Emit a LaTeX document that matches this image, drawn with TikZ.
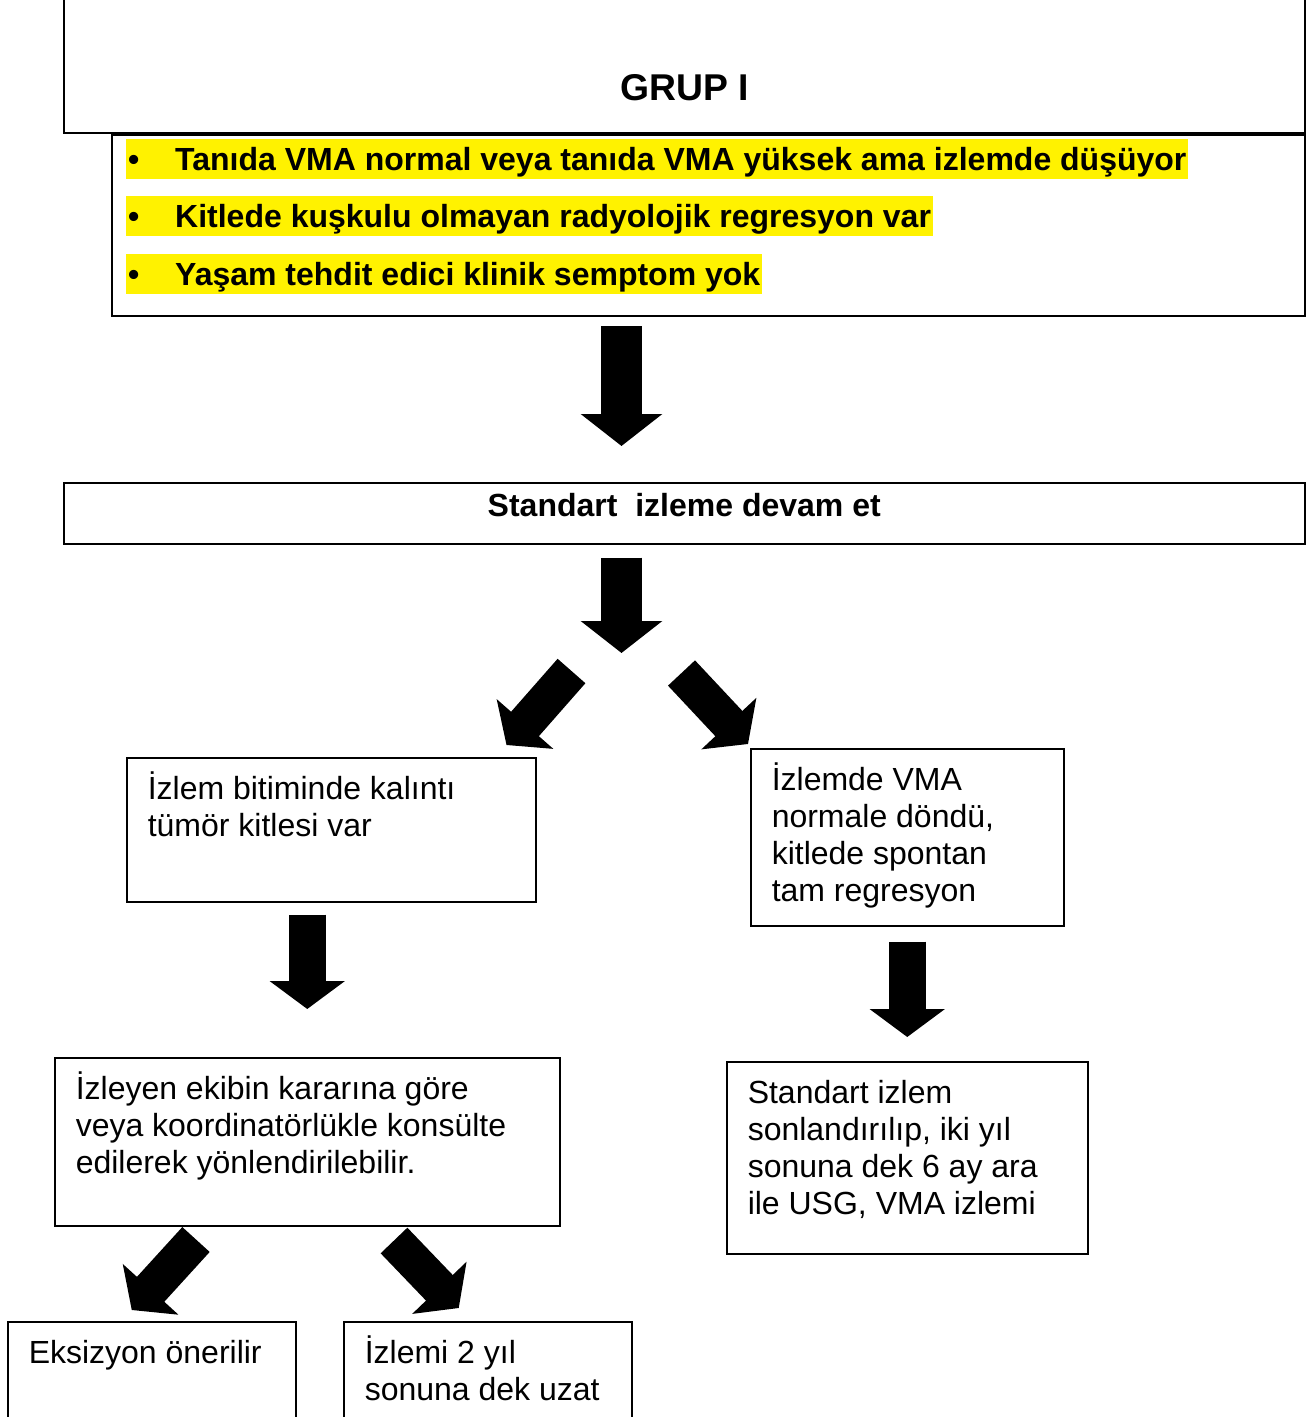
\documentclass[tikz,border=0pt]{standalone}
\usepackage{fontspec}
\setmainfont{Liberation Sans}
\usetikzlibrary{arrows.meta,positioning,calc}

\tikzset{
  box/.style={draw, line width=1.5pt, anchor=north west, inner xsep=21pt, inner ysep=12pt,
    font=\fontsize{32pt}{37pt}\selectfont},
  hilite/.style={fill=yellow, anchor=west, inner xsep=2pt, inner ysep=2pt,
    text height=29pt, text depth=7pt, font=\bfseries\fontsize{32pt}{37pt}\selectfont},
  bigarrow/.style={line width=41pt, -{Triangle[width=80pt,length=32pt]}},
  medarrow/.style={line width=37pt, -{Triangle[width=74pt,length=28pt]}},
}
% text block fixed to the top left of a box
\newcommand{\boxtext}[3]{\parbox[c][#2][t]{#1}{\raggedright\rule{0pt}{30pt}#3}}

\begin{document}
\begin{tikzpicture}[x=1pt,y=-1pt]
  \path[use as bounding box, clip] (0,0) rectangle (1308,1417);

  % header box, open at the top edge
  \node[draw, line width=2pt, anchor=south west, minimum width=1241pt, inner ysep=33pt,
    text height=140pt, text depth=0pt, font=\bfseries\fontsize{37.3pt}{43pt}\selectfont]
    (grup) at (63,134) {GRUP I};

  % criteria box with highlighted bullets
  \node[draw, line width=2pt, anchor=north west, minimum width=1193pt, minimum height=181pt]
    (kriter) at (111,134) {};
  \node[hilite] (b1) at (126,159) {\makebox[47pt][l]{•}Tanıda VMA normal veya tanıda VMA yüksek ama izlemde düşüyor};
  \node[hilite] (b2) at (126,216) {\makebox[47pt][l]{•}Kitlede kuşkulu olmayan radyolojik regresyon var};
  \node[hilite] (b3) at (126,274) {\makebox[47pt][l]{•}Yaşam tehdit edici klinik semptom yok};

  % standard follow-up
  \node[draw, line width=1.5pt, anchor=north west, minimum width=1241pt, minimum height=61pt,
    inner ysep=0pt, text height=29pt, text depth=23pt, font=\bfseries\fontsize{32pt}{37pt}\selectfont]
    (devam) at (63,482) {Standart\ \ izleme devam et};

  % outcome boxes
  \node[box] (kalinti) at (126,757) {\boxtext{367pt}{120pt}{İzlem bitiminde kalıntı\\ tümör kitlesi var}};
  \node[box] (normal) at (750,748) {\boxtext{271pt}{153pt}{İzlemde VMA\\ normale döndü,\\ kitlede spontan\\ tam regresyon}};
  \node[box] (ekip) at (54,1057) {\boxtext{463pt}{144pt}{İzleyen ekibin kararına göre\\ veya koordinatörlükle konsülte\\ edilerek yönlendirilebilir.}};
  \node[box] (sonlan) at (726,1061) {\boxtext{319pt}{168pt}{Standart izlem\\ sonlandırılıp, iki yıl\\ sonuna dek 6 ay ara\\ ile USG, VMA izlemi}};
  \node[box] (eksiz) at (7,1321) {\boxtext{246pt}{116pt}{Eksizyon önerilir}};
  \node[box] (uzat) at (343,1321) {\boxtext{246pt}{116pt}{İzlemi 2 yıl\\ sonuna dek uzat}};

  % block arrows
  \coordinate (mid) at (621.5,0);
  \coordinate (split) at (621.5,653);
  \draw[bigarrow, shorten <=9pt, shorten >=36pt] (kriter.south -| mid) -- (devam.north -| mid);
  \draw[bigarrow, shorten <=13pt] (devam.south -| split) -- (split);
  \draw[medarrow] ([shift={(-50,18)}]split) -- ([shift={(-30,-12)}]kalinti.north east);
  \draw[medarrow] ([shift={(60,20)}]split) -- ([shift={(-2,-4)}]normal.north west);
  \draw[medarrow, shorten <=12pt, shorten >=48pt] (kalinti.south -| ekip.north) -- (ekip.north);
  \draw[medarrow, shorten <=15pt, shorten >=24pt] (normal.south) -- (sonlan.north);
  \draw[medarrow] ([shift={(142,13)}]ekip.south west) -- ([shift={(-20,-11)}]eksiz.north);
  \draw[medarrow] ([shift={(340,14)}]ekip.south west) -- ([shift={(-29,-13)}]uzat.north);
\end{tikzpicture}
\end{document}
